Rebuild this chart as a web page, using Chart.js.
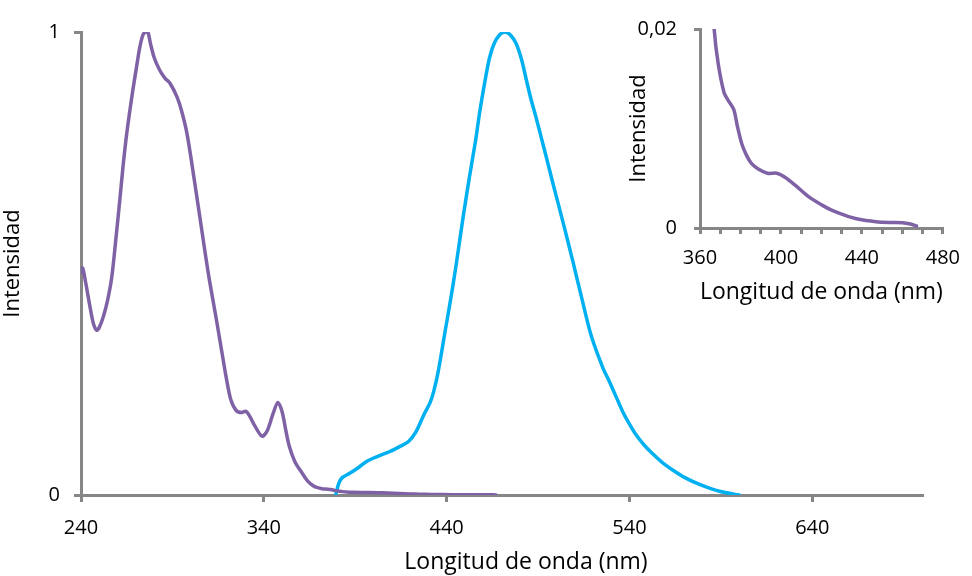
<!DOCTYPE html>
<html><head><meta charset="utf-8">
<script src="https://cdn.jsdelivr.net/npm/chart.js@4.4.0/dist/chart.umd.min.js"></script>
<style>
html,body{margin:0;padding:0;background:#fff;}
#wrap{position:relative;width:972px;height:576px;}
#main{position:absolute;left:0;top:0;}
#inset{position:absolute;left:626px;top:0;}
</style></head>
<body><div id="wrap"><canvas id="main" width="972" height="576"></canvas><canvas id="inset" width="346" height="310"></canvas></div>
<script>
// Absorption spectrum (purple): wavelength (nm) and normalised intensity
const absWavelength = [240,240.9,242.5,244.9,246.8,248.6,250,252.2,254.5,256.8,259,261.3,263,265,268,270.4,272.2,274,275.5,276.6,278,280,283,286,288.6,292.5,295,298,302,306.7,310,314,317,319.6,322,325,328,330,332,335,339,342,345,347.7,350,352,354,357,361,364,367,369,371.9,374,376.7,378.5,380.6,383,385.4,389,393.3,398,402,407.6,414,420.3,425,431.4,438,447,454,460,464,467];
const absIntensity  = [0.48,0.49,0.46,0.407,0.37,0.356,0.362,0.385,0.42,0.47,0.55,0.64,0.71,0.78,0.865,0.925,0.968,0.995,1.0,1.0,0.975,0.945,0.918,0.90,0.89,0.86,0.83,0.78,0.68,0.555,0.47,0.38,0.31,0.25,0.205,0.182,0.178,0.181,0.172,0.15,0.127,0.14,0.175,0.20,0.18,0.14,0.104,0.072,0.047,0.03,0.02,0.0165,0.0136,0.0128,0.0119,0.0102,0.0085,0.0073,0.0065,0.0059,0.0055,0.0055,0.0051,0.0042,0.0031,0.0023,0.0018,0.0013,0.0009,0.00063,0.00055,0.00053,0.0004,0.0002];
// Emission spectrum (blue)
const emWavelength = [379.3,381,383,387,392,396,402,409,414,419,423,426,428,431,433,435.3,439,442.5,445.3,449,452.6,456,458,461,463.5,466,469,472,475,478,481,483.5,486,489,492,494.5,498,503.6,509,513.6,519,525.4,529,532.7,536.3,540,543.6,548,552.7,558,563.6,570,578.3,589.2,600];
const emIntensity  = [0,0.025,0.038,0.047,0.06,0.072,0.083,0.094,0.104,0.115,0.135,0.16,0.177,0.2,0.225,0.265,0.35,0.43,0.50,0.60,0.69,0.77,0.825,0.895,0.945,0.975,0.994,1.0,0.993,0.975,0.94,0.898,0.857,0.814,0.768,0.73,0.675,0.59,0.505,0.43,0.345,0.275,0.245,0.212,0.18,0.153,0.13,0.108,0.089,0.07,0.054,0.038,0.023,0.008,0];
// Tick labels
const mainXTicks = [240,340,440,540,640];
const mainYTicks = [0,1];
const insetXLabels = [360,400,440,480];
const insetYTicks = [0,0.02];
const xTitle = 'Longitud de onda (nm)';
const yTitle = 'Intensidad';

const PURPLE = '#7f62a6', BLUE = '#00b0f0', AXIS = '#868686';
const FONT = '"Open Sans"';
const pts = (xs, ys) => xs.map((x, i) => ({x: x, y: ys[i]}));
const lineDs = (xs, ys, c) => ({ data: pts(xs, ys), showLine: true, borderColor: c, borderWidth: 3.5, pointRadius: 0, tension: 0.3, borderCapStyle: 'round', borderJoinStyle: 'round' });

// Draws the main x-axis title slightly right of centre, like the reference
const mainXTitle = {
  id: 'mainXTitle',
  afterDraw(chart) {
    const ctx = chart.ctx;
    ctx.save();
    ctx.font = '23px ' + FONT;
    ctx.fillStyle = '#000';
    ctx.textAlign = 'center';
    ctx.textBaseline = 'middle';
    ctx.fillText(xTitle, 526, 562);
    ctx.restore();
  }
};

new Chart(document.getElementById('main'), {
  type: 'scatter',
  data: { datasets: [ lineDs(absWavelength, absIntensity, PURPLE), lineDs(emWavelength, emIntensity, BLUE) ] },
  plugins: [mainXTitle],
  options: {
    responsive: false, animation: false, devicePixelRatio: 1,
    layout: { padding: { left: 0, right: 50, top: 32, bottom: 0 } },
    plugins: { legend: { display: false }, tooltip: { enabled: false } },
    scales: {
      x: { type: 'linear', min: 240, max: 700,
        afterBuildTicks: s => { s.ticks = mainXTicks.map(v => ({value: v})); },
        afterFit: s => { s.height = 81; },
        grid: { display: true, drawOnChartArea: false, drawTicks: true, tickLength: 7, color: AXIS, lineWidth: 3 },
        border: { display: true, color: AXIS, width: 3 },
        ticks: { color: '#000', font: { family: FONT, size: 20 }, padding: 14, maxRotation: 0 },
        title: { display: false }
      },
      y: { type: 'linear', min: 0, max: 1,
        afterBuildTicks: s => { s.ticks = mainYTicks.map(v => ({value: v})); },
        afterFit: s => { s.width = 81; },
        grid: { display: true, drawOnChartArea: false, drawTicks: true, tickLength: 7, color: AXIS, lineWidth: 3 },
        border: { display: true, color: AXIS, width: 3 },
        ticks: { color: '#000', font: { family: FONT, size: 20 }, padding: 14 },
        title: { display: true, text: yTitle, color: '#000', font: { family: FONT, size: 22 }, padding: { top: 0, bottom: 0 } }
      }
    }
  }
});

new Chart(document.getElementById('inset'), {
  type: 'scatter',
  data: { datasets: [ lineDs(absWavelength, absIntensity, PURPLE) ] },
  options: {
    responsive: false, animation: false, devicePixelRatio: 1,
    layout: { padding: { left: 0, right: 19, top: 29, bottom: 0 } },
    plugins: { legend: { display: false }, tooltip: { enabled: false } },
    scales: {
      x: { type: 'linear', min: 360, max: 480,
        afterBuildTicks: s => { const t = []; for (let v = 360; v <= 480; v += 10) t.push({value: v}); s.ticks = t; },
        afterFit: s => { s.height = 82; },
        grid: { display: true, drawOnChartArea: false, drawTicks: true, tickLength: 6, color: AXIS, lineWidth: 3 },
        border: { display: true, color: AXIS, width: 3 },
        ticks: { color: '#000', font: { family: FONT, size: 20 }, padding: 12, maxRotation: 0, autoSkip: false,
          callback: v => insetXLabels.includes(v) ? String(v) : '' },
        title: { display: true, text: xTitle, color: '#000', font: { family: FONT, size: 23 }, padding: { top: 0 } }
      },
      y: { type: 'linear', min: 0, max: 0.02,
        afterBuildTicks: s => { s.ticks = insetYTicks.map(v => ({value: v})); },
        afterFit: s => { s.width = 74; },
        grid: { display: true, drawOnChartArea: false, drawTicks: true, tickLength: 6, color: AXIS, lineWidth: 3 },
        border: { display: true, color: AXIS, width: 3 },
        ticks: { color: '#000', font: { family: FONT, size: 20 }, padding: 17,
          callback: v => v === 0 ? '0' : String(v).replace('.', ',') },
        title: { display: true, text: yTitle, color: '#000', font: { family: FONT, size: 22 }, padding: { top: 0, bottom: 0 } }
      }
    }
  }
});
</script></body></html>
